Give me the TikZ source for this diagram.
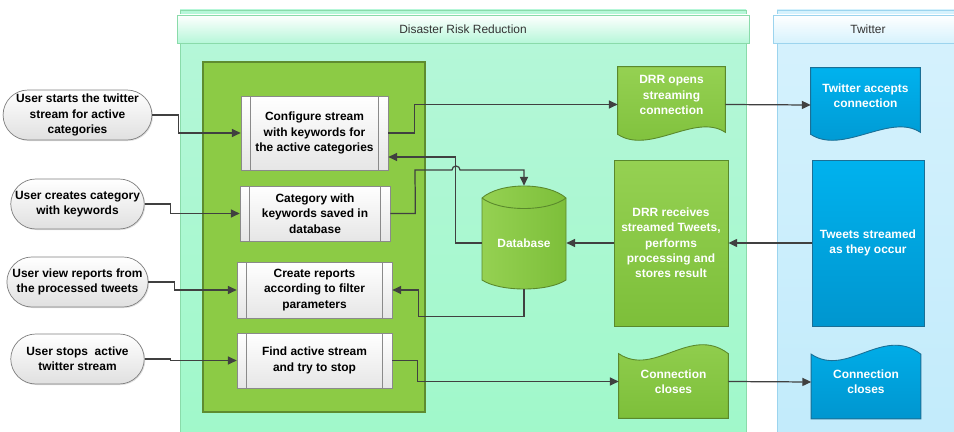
\documentclass[tikz,border=0pt]{standalone}
\usepackage{fontspec}
\setmainfont{Liberation Sans}
\usetikzlibrary{arrows.meta,shapes.misc,shadows,backgrounds}

\definecolor{linec}{HTML}{404040}
\definecolor{laneg1}{HTML}{B6F7D9}
\definecolor{laneg2}{HTML}{A0F8CA}
\definecolor{lanegline}{HTML}{8ADBAA}
\definecolor{laneb1}{HTML}{D6F2FD}
\definecolor{laneb2}{HTML}{C2EBFB}
\definecolor{lanebline}{HTML}{9CD4EE}
\definecolor{innergreen}{HTML}{8CCB45}
\definecolor{innerline}{HTML}{5E8C30}
\definecolor{green1}{HTML}{95D152}
\definecolor{green2}{HTML}{7DBF3A}
\definecolor{greenline}{HTML}{5A892C}
\definecolor{blue1}{HTML}{00B2EE}
\definecolor{blue2}{HTML}{0096CF}
\definecolor{blueline}{HTML}{1B6F95}
\definecolor{boxbot}{HTML}{E6E6E6}
\definecolor{boxline}{HTML}{8A8A8A}
\definecolor{pillbot}{HTML}{E0E0E0}
\definecolor{pillline}{HTML}{7F7F7F}

\newcommand\tabfont{\fontsize{6.8}{8.7}\selectfont\bfseries}

\tikzset{
  lanehead/.style={rectangle, draw=lanegline, top color=white, bottom color=laneg1,
    minimum height=0.56cm, font=\fontsize{6.8}{8}\selectfont, text=black!80},
  userpill/.style={rounded rectangle, draw=pillline, top color=white, bottom color=pillbot,
    minimum width=2.74cm, minimum height=1cm, inner sep=1pt, align=center, font=\tabfont,
    drop shadow={shadow xshift=0.6pt, shadow yshift=-0.6pt, opacity=0.25}},
  procbox/.style={rectangle, draw=boxline, top color=white, bottom color=boxbot,
    align=center, font=\tabfont, inner sep=1pt,
    drop shadow={shadow xshift=0.6pt, shadow yshift=-0.6pt, opacity=0.25},
    path picture={\draw[boxline, line width=0.5pt]
      ([xshift=0.19cm]path picture bounding box.north west) -- ([xshift=0.19cm]path picture bounding box.south west)
      ([xshift=-0.19cm]path picture bounding box.north east) -- ([xshift=-0.19cm]path picture bounding box.south east);}},
  shapetext/.style={text=white, font=\tabfont, align=center},
  greenshape/.style={draw=greenline, line width=0.5pt, top color=green1, bottom color=green2},
  blueshape/.style={draw=blueline, line width=0.5pt, top color=blue1, bottom color=blue2},
  dbshape/.style={draw=greenline, line width=0.5pt, left color=green1, right color=green2},
  link/.style={draw=linec, line width=0.7pt, -{Triangle[length=5pt,width=4.6pt]}}
}

\begin{document}
\begin{tikzpicture}[x=0.02cm, y=-0.02cm]
\useasboundingbox (0,0) rectangle (954,432);

% lanes
\begin{scope}[on background layer]
  \path[draw=lanegline, top color=laneg1, bottom color=laneg2] (180,10) rectangle (746,440);
  \path[draw=lanebline, top color=laneb1, bottom color=laneb2] (777,10) rectangle (962,440);
  \path[draw=innerline, line width=0.6pt, fill=innergreen] (203,62) rectangle (425,412);
\end{scope}
\node[lanehead, minimum width=11.44cm] (drrhead) at (463,29) {Disaster Risk Reduction};
\node[lanehead, draw=lanebline, bottom color=laneb1, minimum width=3.8cm] (twhead) at (868,29) {Twitter};

% user actions
\node[userpill] (ustart) at (77.5,115) {User starts the twitter\\stream for active\\categories};
\node[userpill] (ucreate) at (77.5,204) {User creates category\\with keywords};
\node[userpill] (uview) at (77.5,282) {User view reports from\\the processed tweets};
\node[userpill] (ustop) at (77.5,359) {User stops~ active\\twitter stream};

% processes
\node[procbox, minimum width=2.94cm, minimum height=1.48cm] (config) at (314.5,133) {Configure stream\\with keywords for\\the active categories};
\node[procbox, minimum width=3cm, minimum height=1.1cm] (saved) at (315,213.5) {Category with\\keywords saved in\\database};
\node[procbox, minimum width=3.1cm, minimum height=1.12cm] (reports) at (314.5,290) {Create reports\\according to filter\\parameters};
\node[procbox, minimum width=3.1cm, minimum height=1.1cm] (findstream) at (314.5,360.5) {Find active stream\\and try to stop};

% DRR and twitter steps
\node[minimum width=2.14cm, minimum height=1.5cm,
  label={[shapetext, yshift=0.19cm]center:DRR opens\\streaming\\connection}] (open) at (671.5,104.5) {};
\node[minimum width=2.18cm, minimum height=1.48cm,
  label={[shapetext, yshift=0.19cm]center:Twitter accepts\\connection}] (accept) at (865.5,105) {};
\node[greenshape, shapetext, minimum width=2.28cm, minimum height=3.32cm] (receive) at (671,243)
  {DRR receives\\streamed Tweets,\\performs\\processing and\\stores result};
\node[blueshape, shapetext, minimum width=2.24cm, minimum height=3.32cm] (stream) at (868,243)
  {Tweets streamed\\as they occur};
\node[minimum width=1.68cm, minimum height=2.06cm,
  label={[shapetext, yshift=-0.11cm]center:Database}] (db) at (524,237.5) {};
\node[shapetext, minimum width=2.18cm, minimum height=1.46cm] (closeA) at (673.5,381.5) {Connection\\closes};
\node[shapetext, minimum width=2.18cm, minimum height=1.46cm] (closeB) at (866,382) {Connection\\closes};

\begin{scope}[on background layer]
  \foreach \n/\s in {open/greenshape, accept/blueshape}
    \path[\s] (\n.north west) -- (\n.north east) -- ([yshift=0.2cm]\n.south east)
      .. controls +(-30,-20) and +(32,21) .. ([yshift=0.16cm]\n.south west) -- cycle;
  \foreach \n/\s in {closeA/greenshape, closeB/blueshape}
    \path[\s] (\n.south west) -- ([yshift=-0.18cm]\n.north west)
      .. controls +(36,24) and +(-38,-29) .. ([yshift=-0.18cm]\n.north east) -- (\n.south east) -- cycle;
  % cylinder
  \path[dbshape]
    (482,198) -- (482,280) .. controls (500,292) and (548,292) .. (566,280) -- (566,198)
    .. controls (548,182) and (500,182) .. (482,198) -- cycle;
  \draw[greenline, line width=0.5pt] (482,198) .. controls (500,212) and (548,212) .. (566,198);
\end{scope}

% connectors
\draw[link] (ustart.east) -- ++(26,0) |- (config.west);
\draw[link] (ucreate.east) -- ++(26,0) |- (saved.west);
\draw[link] (uview.east) -- ++(26,0) |- (reports.west);
\draw[link] (ustop.east) -- ++(26,0) |- (findstream.west);
\draw[link] (config.east) -- ++(26,0) |- (open.west);
\draw[link] (open.east) -- (accept.west);
\draw[link] (stream.west) -- (receive.east);
\draw[link] (receive.west) -- (receive.west -| db.east);
\draw[link] (db.west |- receive.west) -- ++(-26,0) |- ([yshift=-0.48cm]config.east);
\draw[link] (saved.east) -- ++(25,0) -- (415,170) -- (452,170)
  arc[start angle=180, end angle=0, radius=0.08cm] -- (524,170) -- (db.north);
\draw[link] (db.south) -- ++(0,27) -| ([xshift=0.52cm]reports.east) -- (reports.east);
\draw[link] (findstream.east) -- ++(25,0) |- (closeA.west);
\draw[link] (closeA.east) -- (closeB.west);
\end{tikzpicture}
\end{document}
